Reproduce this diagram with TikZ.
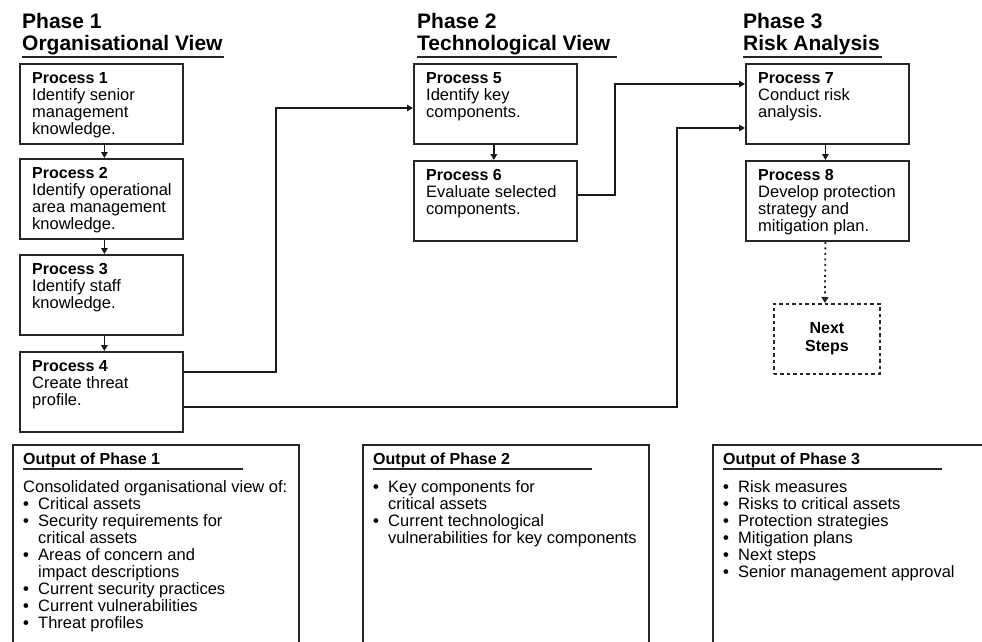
\documentclass[tikz,border=0pt]{standalone}
\usepackage{fontspec}
\setmainfont{Liberation Sans}
\usetikzlibrary{arrows.meta}
\newcommand{\bul}{\makebox[15pt][l]{\textbf{•}}}
\newcommand{\ind}{\hspace*{15pt}}
\newcommand{\pt}[1]{{\fontsize{16}{17}\selectfont\bfseries #1}}
\begin{document}
\begin{tikzpicture}[x=1pt,y=-1pt,
  pbox/.style={draw=black!85, line width=1.8pt, anchor=north west, inner sep=0pt,
    minimum width=163pt, minimum height=80pt},
  obox/.style={draw=black!85, line width=1.8pt, anchor=north west, inner sep=0pt,
    minimum width=286pt, minimum height=230pt},
  ptext/.style={anchor=base west, inner sep=0pt, align=left,
    font=\fontsize{16.5}{17}\selectfont},
  otext/.style={anchor=base west, inner sep=0pt, align=left,
    font=\fontsize{16.5}{17.1}\selectfont},
  head/.style={anchor=base west, inner sep=0pt, align=left,
    font=\fontsize{21}{22}\selectfont\bfseries},
  otitle/.style={anchor=base west, inner sep=0pt,
    font=\fontsize{16}{17}\selectfont\bfseries},
  uline/.style={line width=2.2pt, black!85},
  conn/.style={line width=1.5pt, black!90, -{Triangle[length=6pt,width=6.5pt]}},
  dotconn/.style={line width=1.8pt, black!85, dash pattern=on 2pt off 3.5pt,
    -{Triangle[length=6pt,width=7pt]}},
  nbox/.style={draw=black!85, line width=1.8pt, dash pattern=on 3.5pt off 3pt,
    anchor=north west, inner sep=0pt, minimum width=106pt, minimum height=70pt,
    align=center, font=\fontsize{16}{18}\selectfont\bfseries}
]
\useasboundingbox (0,0) rectangle (982,641);
\clip (0,0) rectangle (982,641);
\fill[white] (0,0) rectangle (982,641);

% headers (base anchor = baseline of the last line)
\node[head] (h1) at (22,50) {Phase 1\\Organisational View};
\draw[uline] (22,57) -- (224,57);
\node[head] (h2) at (417,50) {Phase 2\\Technological View};
\draw[uline] (417,57) -- (617,57);
\node[head] (h3) at (743,50) {Phase 3\\Risk Analysis};
\draw[uline] (743,57) -- (882,57);

% process boxes
\node[pbox] (p1) at (19,63) {};
\node[pbox] (p2) at (19,158) {};
\node[pbox] (p3) at (19,254) {};
\node[pbox] (p4) at (19,351) {};
\node[pbox] (p5) at (413,63) {};
\node[pbox] (p6) at (413,160) {};
\node[pbox] (p7) at (745,63) {};
\node[pbox] (p8) at (745,160) {};

\node[ptext] (t1) at ([shift={(13,71)}]p1.north west) {\pt{Process 1}\\Identify senior\\management\\knowledge.};
\node[ptext] (t2) at ([shift={(13,71)}]p2.north west) {\pt{Process 2}\\Identify operational\\area management\\knowledge.};
\node[ptext] (t3) at ([shift={(13,54)}]p3.north west) {\pt{Process 3}\\Identify staff\\knowledge.};
\node[ptext] (t4) at ([shift={(13,54)}]p4.north west) {\pt{Process 4}\\Create threat\\profile.};
\node[ptext] (t5) at ([shift={(13,54)}]p5.north west) {\pt{Process 5}\\Identify key\\components.};
\node[ptext] (t6) at ([shift={(13,54)}]p6.north west) {\pt{Process 6}\\Evaluate selected\\components.};
\node[ptext] (t7) at ([shift={(13,54)}]p7.north west) {\pt{Process 7}\\Conduct risk\\analysis.};
\node[ptext] (t8) at ([shift={(13,71)}]p8.north west) {\pt{Process 8}\\Develop protection\\strategy and\\mitigation plan.};

% next steps
\node[nbox] (ns) at (773,303) {Next\\Steps};

% vertical arrows
\draw[conn] ([xshift=3pt]p1.south) -- ([xshift=3pt]p2.north);
\draw[conn] ([xshift=3pt]p2.south) -- ([xshift=3pt]p3.north);
\draw[conn] ([xshift=3pt]p3.south) -- ([xshift=3pt]p4.north);
\draw[conn] ([xshift=-1.5pt]p5.south) -- ([xshift=-1.5pt]p6.north);
\draw[conn] ([xshift=-2pt]p7.south) -- ([xshift=-2pt]p8.north);
\draw[dotconn] ([xshift=-2pt]p8.south) -- ([xshift=-2pt]ns.north);

% connectors
\coordinate (c1) at (276,108);
\coordinate (c2) at (677,128);
\coordinate (c3) at (615,84);
\draw[conn] ([yshift=-21pt]p4.north east) -| (c1) -- (c1 -| p5.west);
\draw[conn] ([yshift=-56pt]p4.north east) -| (c2) -- (c2 -| p7.west);
\draw[conn] ([yshift=-35pt]p6.north east) -| (c3) -- (c3 -| p7.west);

% output boxes
\node[obox] (o1) at (12,444) {};
\node[obox] (o2) at (362,444) {};
\node[obox] (o3) at (712,444) {};

\node[otitle] (ot1) at (23,464) {Output of Phase 1};
\draw[uline] (23,469) -- (243,469);
\node[otitle] (ot2) at (373,464) {Output of Phase 2};
\draw[uline] (373,469) -- (592,469);
\node[otitle] (ot3) at (723,464) {Output of Phase 3};
\draw[uline] (723,469) -- (942,469);

\node[otext] (b1) at (23,628.8) {Consolidated organisational view of:\\
\bul Critical assets\\
\bul Security requirements for\\
\ind critical assets\\
\bul Areas of concern and\\
\ind impact descriptions\\
\bul Current security practices\\
\bul Current vulnerabilities\\
\bul Threat profiles};
\node[otext] (b2) at (373,543.3) {\bul Key components for\\
\ind critical assets\\
\bul Current technological\\
\ind vulnerabilities for key components};
\node[otext] (b3) at (723,577.5) {\bul Risk measures\\
\bul Risks to critical assets\\
\bul Protection strategies\\
\bul Mitigation plans\\
\bul Next steps\\
\bul Senior management approval};
\end{tikzpicture}
\end{document}
